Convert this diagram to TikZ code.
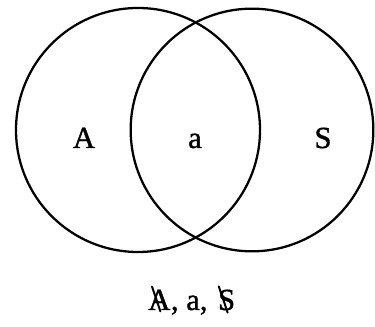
\documentclass[tikz,border=0pt]{standalone}
\usepackage{fontspec}
\setmainfont{Liberation Serif}
\newfontfamily\scanfont[FakeBold=1.2]{Liberation Serif}
\usetikzlibrary{calc}
\tikzset{
	setring/.style ={draw=black, line width=1.7pt},
	lbl/.style     ={font=\fontsize{23}{27}\scanfont, inner sep=0pt},
	strike/.style  ={draw=black, line width=1.5pt, line cap=round},
}

\begin{document}
\begin{tikzpicture}[x=0.75pt, y=-0.75pt]
	\useasboundingbox[fill=white] (0,0) rectangle (375,327);
	% the two sets
	\draw[setring] (138,130) circle[radius=91.5pt];
	\draw[setring] (252,130) circle[radius=91pt];
	\node[lbl, anchor=base] (lA) at (84,148) {A};
	\node[lbl, anchor=base] (la) at (195,148) {a};
	\node[lbl, anchor=base] (lS) at (323,148) {S};
	% what is left
	\node[lbl, anchor=base west] (bA) at (148,310) {A};
	\node[lbl, anchor=base west] (bmid) at (bA.base east) {, a,};
	\node[lbl, anchor=base west] (bS) at ($(bmid.base east)+(10,0)$) {S};
	\draw[strike] ($(bA.north west)+(4,-3)$) -- ($(bA.south)+(1,1)$);
	\draw[strike] ($(bS.north west)+(1,-3)$) -- ($(bS.south)+(1,2)$);
\end{tikzpicture}
\end{document}
